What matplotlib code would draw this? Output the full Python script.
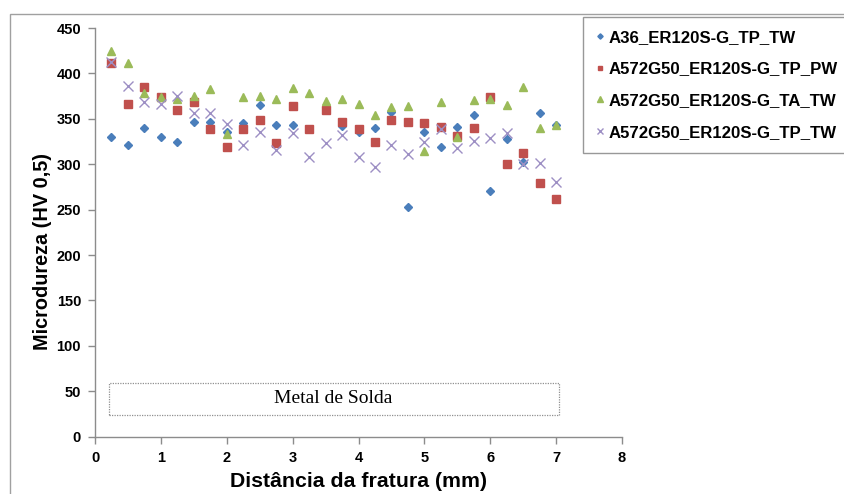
import matplotlib
matplotlib.use("Agg")
import matplotlib.pyplot as plt
from matplotlib.patches import Rectangle

# ---- data ----
distance = [0.25, 0.5, 0.75, 1.0, 1.25, 1.5, 1.75, 2.0, 2.25, 2.5, 2.75, 3.0, 3.25, 3.5,
            3.75, 4.0, 4.25, 4.5, 4.75, 5.0, 5.25, 5.5, 5.75, 6.0, 6.25, 6.5, 6.75, 7.0]

a36_tp_tw = [330, 321, 340, 330, 324, 347, 347, 336, 345, 365, 343, 343, 339, 360,
             342, 335, 340, 358, 253, 336, 319, 341, 354, 270, 328, 302, 356, 343]
a572_tp_pw = [412, 366, 385, 374, 360, 368, 339, 319, 339, 349, 323, 364, 339, 360,
              346, 339, 325, 349, 347, 345, 341, 331, 340, 374, 300, 312, 279, 262]
a572_ta_tw = [425, 412, 378, 374, 372, 375, 383, 333, 374, 375, 372, 384, 378, 370,
              372, 366, 354, 363, 364, 315, 368, 330, 371, 372, 365, 385, 340, 343]
a572_tp_tw = [413, 386, 369, 366, 375, 356, 356, 344, 321, 336, 316, 334, 308, 323,
              332, 308, 297, 321, 311, 324, 339, 318, 326, 329, 334, 300, 301, 280]

series_labels = ["A36_ER120S-G_TP_TW", "A572G50_ER120S-G_TP_PW",
                 "A572G50_ER120S-G_TA_TW", "A572G50_ER120S-G_TP_TW"]
x_ticks = [0, 1, 2, 3, 4, 5, 6, 7, 8]
y_ticks = [0, 50, 100, 150, 200, 250, 300, 350, 400, 450]
weld_region = (0.21, 7.05)
weld_band = (24, 59)
weld_label = "Metal de Solda"

# ---- figure ----
plt.rcParams['font.family'] = ['Liberation Sans', 'DejaVu Sans']
fig = plt.figure(figsize=(8.44, 4.94), dpi=100)
W, H = 844, 494
ax = fig.add_axes([95 / W, 1 - 436.7 / H, (622 - 95) / W, (436.7 - 28) / H])

# outer chart frame (top & left visible)
fig.add_artist(Rectangle((10 / W, -0.1), 1.2, 1.1 - 14 / H, transform=fig.transFigure,
                         fill=False, edgecolor='#a0a0a0', lw=1.0))

h1, = ax.plot(distance, a36_tp_tw, linestyle='none', marker='D', markersize=4.5,
              color='#4A7EBB', markeredgecolor='#4A7EBB', zorder=3)
h2, = ax.plot(distance, a572_tp_pw, linestyle='none', marker='s', markersize=5.6,
              color='#C0504D', markeredgecolor='#C0504D', zorder=4)
h3, = ax.plot(distance, a572_ta_tw, linestyle='none', marker='^', markersize=6.2,
              color='#9BBB59', markeredgecolor='#9BBB59', zorder=5)
h4, = ax.plot(distance, a572_tp_tw, linestyle='none', marker='x', markersize=6.8,
              color='#9D8FC4', markeredgewidth=1.0, zorder=6)

ax.set_xlim(0, 8)
ax.set_ylim(0, 450)
ax.set_xticks(x_ticks)
ax.set_yticks(y_ticks)
for s in ['top', 'right']:
    ax.spines[s].set_visible(False)
for s in ['left', 'bottom']:
    ax.spines[s].set_color('#8c8c8c')
    ax.spines[s].set_linewidth(1.0)
ax.tick_params(axis='both', direction='out', length=5, width=1.0, color='#8c8c8c',
               labelsize=10.5, pad=5)
for lab in ax.get_xticklabels() + ax.get_yticklabels():
    lab.set_fontweight('bold')

ax.set_xlabel("Distância da fratura (mm)", fontsize=15.3, fontweight='bold', labelpad=5)
ax.set_ylabel("Microdureza (HV 0,5)", fontsize=14.3, fontweight='bold')
ax.yaxis.set_label_coords(-0.082, 0.454)

# weld metal band
ax.add_patch(Rectangle((weld_region[0], weld_band[0]), weld_region[1] - weld_region[0],
                       weld_band[1] - weld_band[0], fill=False, edgecolor='#909090',
                       linestyle=(0, (1, 1)), lw=0.9, zorder=2))
ax.text((weld_region[0] + weld_region[1]) / 2 - 0.02, (weld_band[0] + weld_band[1]) / 2 + 1,
        weld_label, ha='center', va='center', fontsize=14,
        family=['Liberation Serif', 'DejaVu Serif'])

leg = fig.legend([h1, h2, h3, h4], series_labels, loc='upper left',
                 bbox_to_anchor=(583 / W, 1 - 17 / H), frameon=True, fancybox=False,
                 prop={'weight': 'bold', 'size': 12.1}, labelspacing=1.0,
                 handlelength=0.5, handletextpad=0.3, borderpad=0.75,
                 markerscale=0.6, borderaxespad=0)
leg.get_frame().set_edgecolor('#7f7f7f')
leg.get_frame().set_linewidth(1.0)

fig.savefig("out.png", dpi=100)
